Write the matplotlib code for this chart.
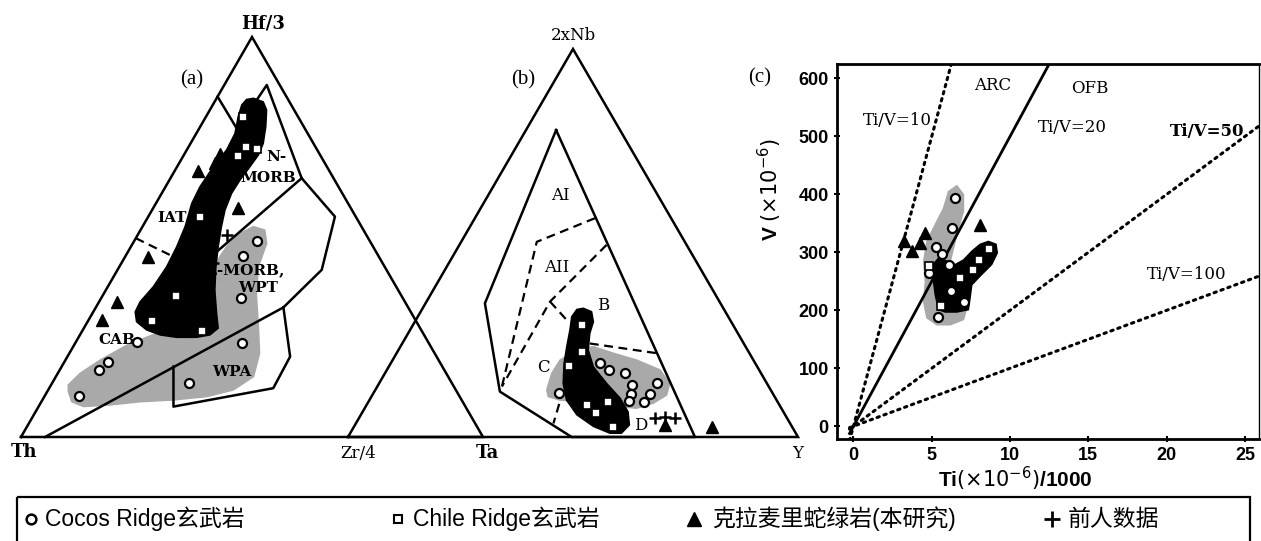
import numpy as np
import matplotlib
matplotlib.use("Agg")
import matplotlib.pyplot as plt
from matplotlib.patches import Polygon, Rectangle

# ---------------- data ----------------
# Panel (a): Hf/3 - Th - Zr/4 ternary; values are (Hf/3 %, Zr/4 %), Th = remainder
a_sq_hf = [79.9, 72.6, 72.0, 70.3, 54.9, 35.3, 29.1, 26.6]
a_sq_zr = [8.2, 12.4, 15.0, 11.9, 11.4, 16.0, 13.7, 25.8]
a_ci_hf = [48.9, 45.3, 34.7, 23.8, 23.6, 18.8, 16.8, 10.3, 13.4]
a_ci_zr = [26.6, 25.5, 30.2, 13.1, 36.0, 9.5, 8.4, 7.5, 29.7]
a_tr_hf = [70.8, 68.4, 66.6, 57.2, 45.1, 33.8, 29.3]
a_tr_zr = [7.7, 7.8, 5.0, 18.4, 5.0, 3.8, 2.9]
a_pl_hf = [50.5, 43.4]
a_pl_zr = [19.3, 19.9]

a_cab_line = [(0, 5.2), (32.4, 40.6)]
a_wpa_poly = [(17.6, 24.2), (7.6, 29.2), (12.2, 48.5), (20.1, 48.2), (32.4, 40.6)]
a_emorb_out = [(64.7, 28.4), (55.1, 40.4), (41.8, 44.2), (32.4, 40.6)]
a_nmorb_right = [(84.3, 8.9), (88.0, 9.2), (64.7, 28.4)]
a_iat_line = [(85.1, 0), (70.1, 15.3)]
a_nm_em_line = [(64.7, 28.4), (46.3, 19.2)]
a_dash_line = [(49.7, 0), (45.1, 10.4)]

a_gray = [(11.3, 4.6), (8.8, 6.6), (7.6, 9.7), (8.0, 15.3), (8.8, 21.4), (9.25, 28.4),
          (10.1, 35.2), (11.75, 40.1), (15.1, 42.8), (20.9, 41.2), (27.6, 37.6),
          (35.9, 33.0), (42.6, 30.1), (48.4, 29.0), (51.75, 26.9), (52.6, 24.0),
          (50.9, 21.95), (47.6, 20.7), (42.6, 20.3), (35.9, 20.7), (29.25, 19.8),
          (25.9, 16.4), (23.4, 11.9), (19.25, 7.5), (15.9, 4.8), (13.0, 3.7)]
a_black = [(84.7, 8.0), (83.8, 10.55), (81.75, 12.3), (77.6, 14.2), (73.4, 15.75),
           (70.5, 16.15), (67.6, 15.8), (64.25, 15.3), (60.9, 15.15), (56.75, 15.8),
           (52.6, 17.1), (47.6, 18.9), (42.6, 20.9), (36.75, 23.6), (30.9, 26.9),
           (27.2, 29.1), (25.5, 28.15), (24.9, 25.55), (24.9, 21.25), (25.5, 17.35),
           (26.75, 13.8), (28.8, 10.6), (31.3, 9.05), (33.8, 8.86), (37.6, 9.84),
           (42.6, 10.23), (47.6, 9.9), (52.6, 9.2), (58.4, 7.74), (62.6, 7.44),
           (67.6, 7.83), (71.75, 8.6), (75.9, 8.35), (80.1, 6.95), (83.0, 6.26),
           (84.4, 6.6)]

# Panel (b): 2xNb - Ta - Y ternary; values are (2xNb %, Y %), Ta = remainder
b_sq_nb = [28.9, 22.0, 18.3, 8.25, 6.1, 9.1, 2.7]
b_sq_y = [37.5, 40.9, 40.0, 48.9, 52.1, 53.3, 57.6]
b_ci_nb = [19.0, 17.3, 16.4, 13.4, 11.1, 9.4, 13.8, 11.1, 8.9, 11.25]
b_ci_y = [46.5, 49.4, 53.4, 56.3, 57.35, 57.8, 61.7, 61.6, 61.3, 41.3]
b_tr_nb = [3.1, 2.7]
b_tr_y = [68.9, 79.5]
b_pl_nb = [4.8, 5.2, 4.8]
b_pl_y = [65.8, 67.8, 70.3]

b_inner = [(79.1, 6.7), (0, 77.1), (0, 49.7), (11.7, 27.9), (34.45, 13.2)]
b_dash1 = [(56.4, 26.7), (50.3, 16.8), (13.0, 27.7)]
b_dash2 = [(49.5, 32.7), (34.9, 27.45), (13.0, 27.7)]
b_dash3 = [(34.9, 27.45), (29.7, 34.1)]
b_dash4 = [(24.1, 41.7), (21.6, 57.8)]
b_dash5 = [(12.1, 41.8), (3.5, 43.9)]

b_gray = [(12.1, 38.1), (16.4, 37.05), (19.85, 37.2), (22.4, 39.6), (23.3, 42.9),
          (21.6, 48.2), (19.85, 54.2), (17.3, 60.7), (13.8, 64.6), (10.8, 65.4),
          (8.7, 63.5), (7.4, 60.45), (7.8, 56.5), (8.7, 51.7), (9.1, 47.0),
          (9.5, 42.3), (10.4, 39.3)]
b_black = [(33.2, 35.7), (32.3, 38.0), (29.7, 39.7), (26.7, 40.4), (22.4, 42.2),
           (18.1, 45.5), (13.8, 50.6), (10.0, 55.5), (6.5, 59.0), (3.1, 61.0),
           (0.95, 60.3), (0.95, 57.75), (2.7, 53.2), (5.7, 48.0), (9.5, 43.8),
           (13.8, 40.9), (19.0, 38.5), (23.3, 36.95), (27.6, 35.5), (31.0, 34.2),
           (32.9, 34.4)]

# Panel (c): Ti/1000 vs V
c_tr_ti = [3.25, 3.74, 4.27, 4.59, 8.09]
c_tr_v = [319, 302, 316, 333, 348]
c_ci_ti = [6.50, 6.29, 5.29, 5.65, 6.11, 4.84, 6.22, 7.07, 5.43]
c_ci_v = [394, 342, 309, 297, 278, 264, 234, 214, 188]
c_sq_ti = [8.68, 8.05, 7.62, 6.80, 4.80, 5.60]
c_sq_v = [305, 287, 270, 255, 276, 208]
c_ratios = [10, 20, 50, 100]
c_gray_ti = [6.60, 7.03, 7.03, 6.71, 6.39, 6.18, 6.39, 6.82, 7.24, 7.03, 6.18, 5.33,
             4.69, 4.48, 4.59, 4.48, 4.69, 5.22, 5.75, 6.07]
c_gray_v = [415, 400, 371, 342, 307, 284, 256, 227, 204, 184, 175, 175, 187, 215,
            250, 284, 319, 348, 376, 405]
c_black_ti = [8.62, 9.11, 9.19, 8.83, 8.09, 7.56, 7.45, 7.34, 6.60, 5.86, 5.43, 5.22,
              5.08, 5.08, 5.43, 6.07, 6.50, 7.03, 7.56, 8.09]
c_black_v = [319, 314, 299, 279, 259, 244, 221, 201, 197, 197, 201, 227, 256, 279,
             290, 284, 279, 287, 302, 314]

legend_labels = ["Cocos Ridge玄武岩", "Chile Ridge玄武岩", "克拉麦里蛇绿岩(本研究)", "前人数据"]

# ---------------- layout helpers ----------------
W, H = 1261, 541
fig = plt.figure(figsize=(W / 100, H / 100), dpi=100)
fig.patch.set_facecolor("white")


def fx(p):
    return p / W


def fy(p):
    return 1 - p / H


SQ = np.sqrt(3) / 2


def tern(top, right):
    top = np.asarray(top, float) / 100.0
    right = np.asarray(right, float) / 100.0
    return right + top / 2.0, top * SQ


def tern_pairs(pairs):
    arr = np.array(pairs, float)
    return tern(arr[:, 0], arr[:, 1])


LW = 1.8
GRAY = "#a9a9a9"
SERIF = "DejaVu Serif"

ci_kw = dict(marker="o", ms=6.5, mfc="white", mec="black", mew=1.6, ls="none", zorder=6)
sq_kw = dict(marker="s", ms=5.5, mfc="white", mec="black", mew=1.2, ls="none", zorder=6)
tr_kw = dict(marker="^", ms=8.5, mfc="black", mec="black", ls="none", zorder=6)
pl_kw = dict(marker="+", ms=9, mec="black", mew=1.8, ls="none", zorder=6)


def ternary_axes(left_px, right_px, top_px, base_px):
    ax = fig.add_axes([fx(left_px), fy(base_px), (right_px - left_px) / W,
                       (base_px - top_px) / H])
    ax.set_xlim(0, 1)
    ax.set_ylim(0, SQ)
    ax.axis("off")
    return ax


def outline(ax):
    x, y = tern([0, 100, 0, 0], [0, 0, 100, 0])
    ax.plot(x, y, color="black", lw=LW, solid_joinstyle="miter", clip_on=False, zorder=4)


def line(ax, pairs, dashed=False):
    x, y = tern_pairs(pairs)
    ax.plot(x, y, color="black", lw=LW if not dashed else 1.6,
            ls=(0, (4, 2.5)) if dashed else "-", clip_on=False, zorder=2)


def blob(ax, pairs, color, z):
    x, y = tern_pairs(pairs)
    ax.add_patch(Polygon(np.column_stack([x, y]), closed=True, fc=color, ec=color,
                         lw=1.0, joinstyle="round", zorder=z))


# ---------------- panel (a) ----------------
ax_a = ternary_axes(21, 483, 37, 437)
blob(ax_a, a_gray, GRAY, 1)
for ln in (a_cab_line, a_wpa_poly, a_emorb_out, a_nmorb_right, a_iat_line, a_nm_em_line):
    line(ax_a, ln)
line(ax_a, a_dash_line, dashed=True)
blob(ax_a, a_black, "black", 3)
outline(ax_a)
ax_a.plot(*tern(a_ci_hf, a_ci_zr), **ci_kw)
ax_a.plot(*tern(a_sq_hf, a_sq_zr), **sq_kw)
ax_a.plot(*tern(a_tr_hf, a_tr_zr), **tr_kw)
ax_a.plot(*tern(a_pl_hf, a_pl_zr), **pl_kw)

# ---------------- panel (b) ----------------
ax_b = ternary_axes(348, 798, 49, 437)
blob(ax_b, b_gray, GRAY, 1)
line(ax_b, b_inner + [b_inner[0]])
for ln in (b_dash1, b_dash2, b_dash3, b_dash4, b_dash5):
    line(ax_b, ln, dashed=True)
blob(ax_b, b_black, "black", 3)
outline(ax_b)
ax_b.plot(*tern(b_ci_nb, b_ci_y), **ci_kw)
ax_b.plot(*tern(b_sq_nb, b_sq_y), **sq_kw)
ax_b.plot(*tern(b_tr_nb, b_tr_y), **tr_kw)
ax_b.plot(*tern(b_pl_nb, b_pl_y), **pl_kw)

# ---------------- panel (c) ----------------
ax_c = fig.add_axes([fx(837), fy(439), (1259 - 837) / W, (439 - 64) / H])
ax_c.set_xlim(-1.05, 25.9)
ax_c.set_ylim(-22, 625)
ax_c.fill(c_gray_ti, c_gray_v, fc=GRAY, ec=GRAY, lw=1, zorder=1)
ax_c.fill(c_black_ti, c_black_v, fc="black", ec="black", lw=1, zorder=3)
ti_line = np.array([-0.25, 30.0])
for r in c_ratios:
    vv = ti_line * 1000.0 / r
    if r == 20:
        ax_c.plot(ti_line, vv, color="black", lw=2.0, zorder=2)
    else:
        ax_c.plot(ti_line, vv, color="black", lw=2.2, ls=(0, (0.8, 1.6)),
                  dash_capstyle="round", zorder=2)
ax_c.plot(c_ci_ti, c_ci_v, **ci_kw)
ax_c.plot(c_sq_ti, c_sq_v, **sq_kw)
ax_c.plot(c_tr_ti, c_tr_v, **tr_kw)
ax_c.set_xticks([0, 5, 10, 15, 20, 25])
ax_c.set_yticks([0, 100, 200, 300, 400, 500, 600])
ax_c.tick_params(direction="inout", length=4, width=1.5, pad=4)
for lab in ax_c.get_xticklabels() + ax_c.get_yticklabels():
    lab.set_fontfamily("Liberation Sans")
    lab.set_fontweight("bold")
    lab.set_fontsize(13)
for s in ax_c.spines.values():
    s.set_linewidth(2.0)
ax_c.spines["right"].set_linewidth(1.0)

tkw = dict(family=SERIF, fontsize=12, ha="center", va="center", zorder=8)
ax_c.text(8.9, 588, "ARC", **tkw)
ax_c.text(15.1, 583, "OFB", **tkw)
ax_c.text(2.8, 528, "Ti/V=10", **tkw)
ax_c.text(13.96, 516, "Ti/V=20", **tkw)
ax_c.text(22.6, 508, "Ti/V=50", fontweight="bold", **tkw)
ax_c.text(21.3, 261, "Ti/V=100", **tkw)

fig.text(fx(770), fy(190), r"V $(\times10^{-6})$", rotation=90, ha="center", va="center",
         family="Liberation Sans", fontsize=15, fontweight="bold")
fig.text(fx(1015), fy(479), r"Ti$(\times10^{-6})$/1000", ha="center", va="center",
         family="Liberation Sans", fontsize=15, fontweight="bold")

# ---------------- labels ----------------
def ftxt(px, py, s, size=12, weight="normal", family=SERIF, **kw):
    fig.text(fx(px), fy(py), s, ha="center", va="center", fontsize=size,
             fontweight=weight, family=family, **kw)


ftxt(263, 24, "Hf/3", 13, "bold")
ftxt(24, 452, "Th", 13, "bold")
ftxt(358, 453, "Zr/4", 12)
ftxt(487, 453, "Ta", 13, "bold")
ftxt(573, 36, "2xNb", 12)
ftxt(798, 453, "Y", 12)
ftxt(192, 80, "(a)", 15, family="Liberation Serif")
ftxt(523, 80, "(b)", 15, family="Liberation Serif")
ftxt(760, 78, "(c)", 15, family="Liberation Serif")
ftxt(276, 157, "N-", 11, "bold")
ftxt(268, 178, "MORB", 11, "bold")
ftxt(172, 218, "IAT", 11, "bold")
ftxt(245, 270, "E-MORB,", 11, "bold")
ftxt(258, 288, "WPT", 11, "bold")
ftxt(117, 340, "CAB", 11, "bold")
ftxt(232, 372, "WPA", 11, "bold")
ftxt(560, 195, "AI", 12)
ftxt(557, 267, "AII", 12)
ftxt(603, 305, "B", 12)
ftxt(543, 367, "C", 12)
ftxt(641, 425, "D", 12)

# ---------------- legend ----------------
ax_l = fig.add_axes([0, 0, 1, 1], zorder=-1)
ax_l.set_xlim(0, W)
ax_l.set_ylim(H, 0)
ax_l.axis("off")
ax_l.add_patch(Rectangle((17, 497), 1233, 60, fill=False, ec="black", lw=1.6, clip_on=False))
ly = 519
leg_x = [31, 398, 694, 1052]
leg_tx = [45, 413, 712, 1068]
ax_l.plot([leg_x[0]], [ly], marker="o", ms=7, mfc="white", mec="black", mew=1.8, ls="none")
ax_l.plot([leg_x[1]], [ly], marker="s", ms=6, mfc="white", mec="black", mew=1.5, ls="none")
ax_l.plot([leg_x[2]], [ly], marker="^", ms=10, mfc="black", mec="black", ls="none")
ax_l.plot([leg_x[3]], [ly], marker="+", ms=11, mec="black", mew=2, ls="none")
for tx, lab in zip(leg_tx, legend_labels):
    ax_l.text(tx, ly, lab, ha="left", va="center", fontsize=16.5,
              family=["Liberation Sans", "Noto Sans CJK SC"])

fig.savefig("out.png", dpi=100, facecolor="white")
